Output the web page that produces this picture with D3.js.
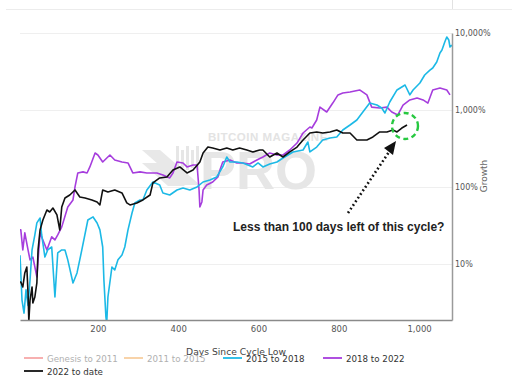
<!DOCTYPE html>
<html><head><meta charset="utf-8">
<script src="https://cdn.jsdelivr.net/npm/d3@7"></script>
<style>body{margin:0;background:#fff}svg{display:block}</style>
</head><body>
<svg id="c" width="512" height="386"></svg>
<script>
// ---- data: [day since cycle low, growth %] ----
const cycle2015 = [[6,13],[11,3.4],[16,2.3],[21,4.6],[26,2.9],[31,6.2],[36,15.2],[43,23.8],[48,34.1],[56,39.5],[60,23.8],[68,12.3],[75,15.2],[85,16.6],[93,3.72],[100,13.9],[110,15.2],[118,15.2],[125,11.3],[138,5.66],[148,7.64],[160,15.2],[175,37.2],[188,40.8],[198,34.1],[205,27.7],[212,16.6],[215,6.19],[220,2.05],[222,1.7],[225,3.72],[235,9.14],[242,8.36],[250,11.3],[260,13.1],[267,16.6],[275,27.7],[285,45.9],[292,62],[305,67.8],[312,67.8],[322,91.4],[337,116],[354,106],[362,83.6],[379,78.7],[397,91.4],[412,97],[429,91.4],[447,100],[462,116],[479,123],[496,135],[511,182],[521,245],[529,211],[546,211],[561,205],[586,182],[599,205],[611,182],[628,199],[646,211],[661,238],[686,285],[711,302],[723,384],[728,285],[745,330],[760,408],[778,433],[795,446],[810,550],[828,638],[845,741],[860,942],[877,1230],[895,1160],[907,1060],[915,914],[927,1270],[945,1820],[957,1990],[965,2110],[977,1570],[985,1820],[1002,2240],[1014,2850],[1027,3300],[1034,3510],[1044,4200],[1052,5500],[1057,6010],[1064,7640],[1069,8870],[1074,8110],[1077,6580],[1082,6980]];
const cycle2018 = [[6,27.7],[8,27.7],[13,15.2],[18,25.3],[26,15.2],[31,11.3],[38,12.3],[48,6.78],[56,25.3],[63,20.5],[73,15.2],[85,22.5],[93,20.5],[100,23.8],[110,30.3],[125,55],[138,67.8],[143,100],[150,152],[163,157],[173,152],[180,182],[193,276],[200,260],[212,211],[230,260],[242,224],[260,211],[275,205],[287,152],[305,157],[322,152],[347,152],[362,143],[379,131],[387,152],[397,211],[412,205],[422,182],[437,193],[447,193],[452,91.4],[454,55],[459,63.9],[462,91.4],[471,106],[486,116],[499,135],[504,166],[511,211],[529,224],[546,205],[561,205],[578,199],[596,224],[611,245],[628,276],[646,260],[661,260],[678,302],[696,372],[711,502],[728,601],[733,583],[745,741],[753,1090],[770,942],[785,1230],[798,1570],[810,1660],[828,1710],[852,1820],[870,1570],[882,1090],[902,1060],[920,1090],[932,942],[947,861],[960,1160],[977,1350],[995,1430],[1010,1350],[1022,1230],[1034,1820],[1052,1930],[1069,1820],[1077,1570]];
const cycle2022 = [[6,5.84],[8,5.84],[13,5.02],[18,7.64],[23,9.14],[26,4.2],[28,1.8],[31,3.4],[36,5.02],[38,3.12],[43,3.72],[48,5.66],[51,15.2],[56,27.7],[63,37.2],[73,50.2],[80,47.3],[88,53.3],[98,43.3],[105,27.7],[110,55],[118,71.9],[130,78.7],[143,91.4],[155,74.1],[168,71.9],[185,67.8],[198,63.9],[205,58.4],[212,91.4],[225,86.1],[242,91.4],[260,83.6],[272,62],[280,58.4],[297,62],[312,67.8],[330,78.7],[337,113],[354,131],[372,135],[387,166],[404,182],[422,152],[437,166],[454,211],[462,276],[474,330],[486,321],[504,302],[521,321],[536,302],[553,321],[571,302],[586,285],[603,302],[611,302],[628,245],[646,276],[661,245],[678,285],[696,330],[711,408],[728,502],[745,518],[760,502],[778,518],[795,550],[810,502],[828,502],[845,408],[852,408],[870,408],[885,446],[902,518],[920,518],[935,550],[945,518],[957,583],[970,638]];
const xTicks = [200, 400, 600, 800, 1000];
const yTicks = [10, 100, 1000, 10000];
const legendNames = ["Genesis to 2011", "2011 to 2015", "2015 to 2018", "2018 to 2022", "2022 to date"];
const legendColors = ["#f6a7a7", "#f8cfa0", "#1cb9e6", "#a63ddd", "#111111"];
const legendActive = [false, false, true, true, true];
const annotation = "Less than 100 days left of this cycle?";

const svg = d3.select("#c");
const L = 20, R = 452, T = 33, B = 320;
const x = d3.scaleLinear().domain([6, 1082]).range([L, R]);
const y = d3.scaleLog().domain([1.87, 10000]).range([B, T]);

// top page decoration
svg.append("line").attr("x1",6).attr("x2",512).attr("y1",9.5).attr("y2",9.5).attr("stroke","#ececec");
svg.append("line").attr("x1",452.5).attr("x2",452.5).attr("y1",0).attr("y2",9).attr("stroke","#e2e2e2");

// gridlines
svg.append("g").selectAll("line").data(yTicks).join("line")
  .attr("x1",L).attr("x2",R).attr("y1",d=>Math.round(y(d))+0.5).attr("y2",d=>Math.round(y(d))+0.5)
  .attr("stroke","#efefef");

// watermark
const wm = svg.append("g").attr("fill","#e3e3e3");
wm.append("text").attr("x",208).attr("y",141).attr("font-family","Liberation Sans, Arial").attr("font-weight","bold")
  .attr("font-size",11.5).attr("letter-spacing",0.5).text("BITCOIN MAGAZINE");
wm.append("text").attr("x",200).attr("y",189).attr("font-family","Liberation Sans, Arial").attr("font-weight","bold")
  .attr("font-size",54).attr("fill","#e6e6e6").text("PRO");
wm.append("path").attr("d","M142,150 L160,150 L200,185 L182,185 Z M142,163 L158,163 L185,186 L168,186 Z").attr("fill","#e8e8e8");
[176,181,186,191,196].forEach((bx,i)=>wm.append("rect").attr("x",bx).attr("y",146+ (i%2)*4).attr("width",3).attr("height",24-(i%2)*6).attr("fill","#e6e6e6"));

// clip
svg.append("clipPath").attr("id","clip").append("rect").attr("x",L).attr("y",T-6).attr("width",R-L).attr("height",B-T+6);

const line = d3.line().x(d=>x(d[0])).y(d=>y(d[1]));
const plot = svg.append("g").attr("clip-path","url(#clip)");
plot.append("path").datum(cycle2018).attr("d",line).attr("fill","none").attr("stroke",legendColors[3]).attr("stroke-width",1.6).attr("stroke-linejoin","round");
plot.append("path").datum(cycle2015).attr("d",line).attr("fill","none").attr("stroke",legendColors[2]).attr("stroke-width",1.6).attr("stroke-linejoin","round");
plot.append("path").datum(cycle2022).attr("d",line).attr("fill","none").attr("stroke",legendColors[4]).attr("stroke-width",1.6).attr("stroke-linejoin","round");

// axes
const xAxis = svg.append("g").attr("transform",`translate(0,${B})`)
  .call(d3.axisBottom(x).tickValues(xTicks).tickSize(0).tickPadding(6).tickFormat(d3.format(",")));
xAxis.select(".domain").attr("stroke","#8a8a8a").attr("stroke-width",1.5);
xAxis.selectAll("text").attr("font-family","DejaVu Sans, Verdana").attr("font-size",8.5).attr("fill","#555");

const yAxis = svg.append("g").attr("transform",`translate(${R},0)`)
  .call(d3.axisRight(y).tickValues(yTicks).tickSize(0).tickPadding(3).tickFormat(d=>d3.format(",")(d)+"%"));
yAxis.select(".domain").attr("stroke","#9a9a9a").attr("stroke-width",1.5);
yAxis.selectAll("text").attr("font-family","DejaVu Sans, Verdana").attr("font-size",8).attr("fill","#555");

svg.append("text").attr("transform","translate(487,176) rotate(-90)").attr("text-anchor","middle")
  .attr("font-family","DejaVu Sans, Verdana").attr("font-size",9).attr("fill","#666").text("Growth");

// annotation
svg.append("text").attr("x",233).attr("y",231).attr("font-family","Liberation Sans, Arial").attr("font-weight","bold")
  .attr("font-size",12).attr("fill","#222").text(annotation);
svg.append("line").attr("x1",348).attr("y1",213).attr("x2",389).attr("y2",152)
  .attr("stroke","#111").attr("stroke-width",2.6).attr("stroke-dasharray","1.8,2.6");
svg.append("path").attr("d","M396,141 L384,148 L393,155 Z").attr("fill","#111");
svg.append("circle").attr("cx",405).attr("cy",126).attr("r",13).attr("fill","none")
  .attr("stroke","#27c840").attr("stroke-width",2.4).attr("stroke-dasharray","5,3.5");

// x title
svg.append("text").attr("x",236).attr("y",355).attr("text-anchor","middle")
  .attr("font-family","DejaVu Sans, Verdana").attr("font-size",9.2).attr("fill","#444").text("Days Since Cycle Low");

// legend
const lpos = [[24,358],[124,358],[223,358],[323,358],[24,371]];
const lg = svg.append("g").selectAll("g").data(legendNames).join("g")
  .attr("transform",(d,i)=>`translate(${lpos[i][0]},${lpos[i][1]})`);
lg.append("line").attr("x1",0).attr("x2",19).attr("y1",0).attr("y2",0)
  .attr("stroke",(d,i)=>legendColors[i]).attr("stroke-width",1.8);
lg.append("text").attr("x",23).attr("y",3.5).attr("font-family","DejaVu Sans, Verdana").attr("font-size",8.7)
  .attr("fill",(d,i)=>legendActive[i]?"#333":"#b0b0b0").text(d=>d);
</script>
</body></html>
